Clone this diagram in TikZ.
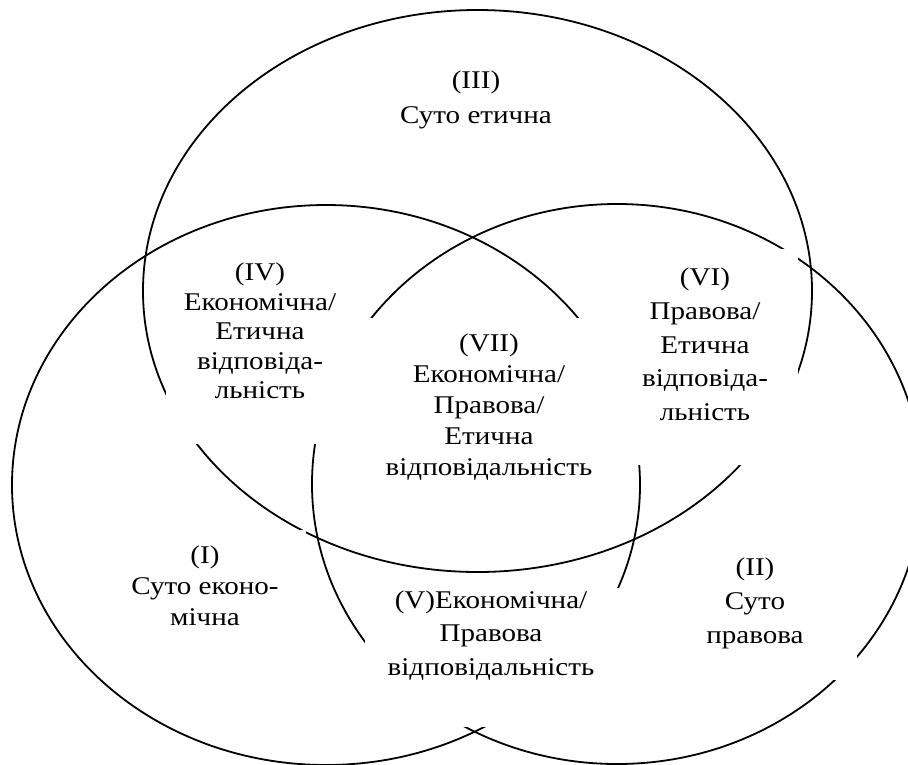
\documentclass[tikz,border=0pt]{standalone}
\usepackage{fontspec}
\setmainfont{Liberation Serif}[FakeStretch=1.14]
\newcommand{\fs}[1]{\fontsize{25.5}{#1}\selectfont}
\begin{document}
\begin{tikzpicture}[x=1pt,y=-1pt,line join=round,line cap=round,
	lbl/.style={align=center,inner sep=0pt},
	mask/.style={fill=white}]
	\useasboundingbox (0,0) rectangle (908,764);
	\clip (0,0) rectangle (908,764);
	%Еліпси
	\draw[line width=1.8pt] (477.5,291) ellipse [x radius=334.5, y radius=281];
	\draw[line width=1.8pt] (326,485) ellipse [x radius=314, y radius=280];
	\draw[line width=1.8pt] (617,484) ellipse [x radius=305, y radius=280];
	%Білі поля під написами
	\fill[mask] (166,252) rectangle (345,444);
	\fill[mask] (330,318) rectangle (605,480);
	\fill[mask] (600,249) rectangle (798,465);
	\fill[mask] (110,530) rectangle (306,660);
	\fill[mask] (365,588) rectangle (620,727);
	\fill[mask] (690,540) rectangle (857,680);
	%Написи
	\node[lbl,font=\fs{35}] (etic) at (476,99.5) {(III)\\Суто етична};
	\node[lbl,font=\fs{29.5}] (ekEt) at (260,331) {(IV)\\Економічна/\\Етична\\відповіда-\\льність};
	\node[lbl,font=\fs{31}] (all) at (489,407.5) {(VII)\\Економічна/\\Правова/\\Етична\\відповідальність};
	\node[lbl,font=\fs{33.75}] (prEt) at (705,344.5) {(VI)\\Правова/\\Етична\\відповіда-\\льність};
	\node[lbl,font=\fs{31}] (ekon) at (205,586) {(I)\\Суто еконо-\\мічна};
	\node[lbl,font=\fs{33.5}] (ekPr) at (491,635.5) {(V)Економічна/\\Правова\\відповідальність};
	\node[lbl,font=\fs{34}] (prav) at (755,603) {(II)\\Суто\\правова};
\end{tikzpicture}
\end{document}
